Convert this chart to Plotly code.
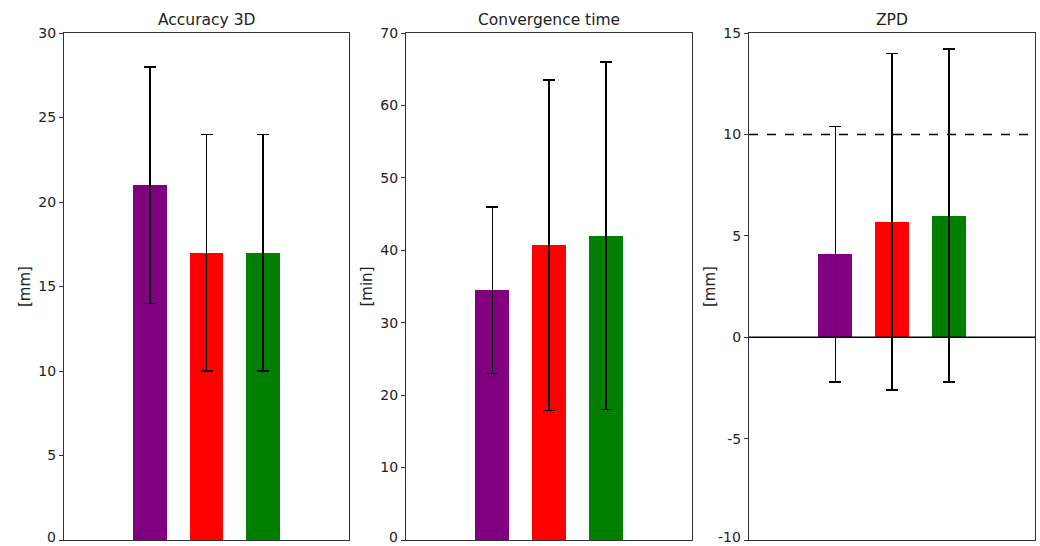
import plotly.graph_objects as go
from plotly.subplots import make_subplots

# ---- data ----
groups = ["A", "B", "C"]
colors = ["#800080", "#ff0000", "#008000"]

titles = ["Accuracy 3D", "Convergence time", "ZPD"]
units = ["[mm]", "[min]", "[mm]"]

acc_mean = [21.0, 17.0, 17.0]
acc_low = [14.0, 10.0, 10.0]
acc_high = [28.0, 24.0, 24.0]

conv_mean = [34.5, 40.7, 42.0]
conv_low = [23.0, 17.9, 18.0]
conv_high = [46.0, 63.5, 66.0]

zpd_mean = [4.1, 5.7, 6.0]
zpd_low = [-2.2, -2.6, -2.2]
zpd_high = [10.4, 14.0, 14.2]

y_ticks = [
    [0, 5, 10, 15, 20, 25, 30],
    [0, 10, 20, 30, 40, 50, 60, 70],
    [-10, -5, 0, 5, 10, 15],
]
zpd_threshold = 10

panels = [
    (acc_mean, acc_low, acc_high),
    (conv_mean, conv_low, conv_high),
    (zpd_mean, zpd_low, zpd_high),
]

W, H = 1040, 546
fig = make_subplots(rows=1, cols=3)

x_pos = list(range(len(groups)))
for p, (mean, low, high) in enumerate(panels):
    fig.add_trace(
        go.Bar(
            x=x_pos,
            y=mean,
            width=0.6,
            marker=dict(color=colors, line=dict(width=0)),
            error_y=dict(
                type="data",
                symmetric=False,
                array=[h - m for h, m in zip(high, mean)],
                arrayminus=[m - l for m, l in zip(mean, low)],
                color="black",
                thickness=1.5,
                width=6,
            ),
            showlegend=False,
            hoverinfo="y",
        ),
        row=1, col=p + 1,
    )

x_domains = [[64 / W, 349 / W], [406 / W, 692 / W], [749 / W, 1035 / W]]
y_domain = [1 - 540 / H, 1 - 33 / H]
font_c = "#222222"

for i in range(3):
    xa = "xaxis" if i == 0 else f"xaxis{i+1}"
    ya = "yaxis" if i == 0 else f"yaxis{i+1}"
    ticks_i = y_ticks[i]
    fig.layout[xa].update(
        domain=x_domains[i], range=[-1.52, 3.52], automargin=False,
        showticklabels=False, ticks="", showgrid=False, zeroline=False,
        showline=True, mirror=True, linecolor="#333333", linewidth=1,
    )
    fig.layout[ya].update(
        domain=y_domain, range=[ticks_i[0], ticks_i[-1]], automargin=False,
        tickmode="array", tickvals=ticks_i,
        ticktext=[""] + [str(t) for t in ticks_i[1:]],
        showgrid=False, zeroline=False,
        showline=True, mirror=True, linecolor="#333333", linewidth=1,
        ticks="outside", ticklen=4, tickcolor="#333333",
        tickfont=dict(family="DejaVu Sans", size=14, color=font_c),
        title=dict(text=units[i], font=dict(family="DejaVu Sans", size=15, color=font_c), standoff=4),
    )
    # bottom tick label, kept just inside the page edge
    fig.add_annotation(
        text=str(ticks_i[0]), xref="paper", yref="paper",
        x=x_domains[i][0] - 7 / W, y=0,
        showarrow=False, xanchor="right", yanchor="bottom",
        font=dict(family="DejaVu Sans", size=14, color=font_c),
        borderpad=0,
    )
    fig.add_annotation(
        text=titles[i], xref="paper", yref="paper",
        x=(x_domains[i][0] + x_domains[i][1]) / 2, y=1 - 20 / H,
        showarrow=False, font=dict(family="DejaVu Sans", size=15.5, color=font_c),
        xanchor="center", yanchor="middle",
    )

# ZPD reference lines
fig.add_shape(type="line", xref="x3 domain", yref="y3", x0=0, x1=1, y0=0, y1=0,
              line=dict(color="black", width=1.5))
fig.add_shape(type="line", xref="x3 domain", yref="y3", x0=0, x1=1,
              y0=zpd_threshold, y1=zpd_threshold,
              line=dict(color="black", width=1.5, dash="dash"))

fig.update_layout(
    width=W, height=H,
    margin=dict(l=0, r=0, t=0, b=0),
    paper_bgcolor="white", plot_bgcolor="white",
    bargap=0,
)

fig.write_html("out.html")
